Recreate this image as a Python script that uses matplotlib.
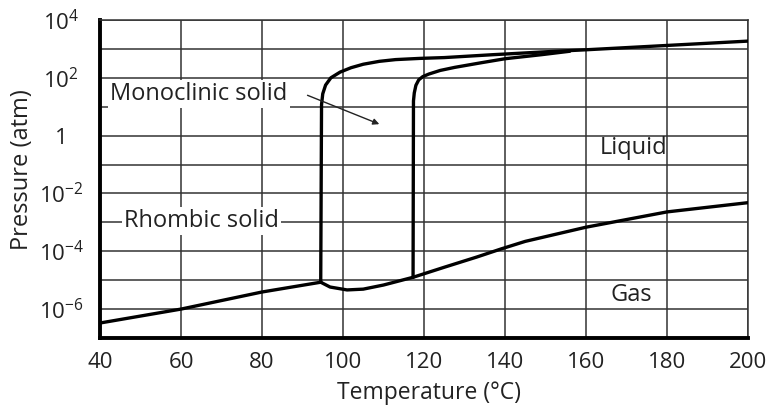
import numpy as np
import matplotlib
matplotlib.use('Agg')
import matplotlib.pyplot as plt
from matplotlib.ticker import FixedLocator, FixedFormatter

plt.rcParams['font.family'] = ['Open Sans', 'DejaVu Sans']
plt.rcParams['mathtext.default'] = 'regular'

# rhombic solid / gas boundary
t_rhombic_gas = [40, 60, 80, 94.5]
p_rhombic_gas = [3.3e-7, 1.0e-6, 3.9e-6, 8.5e-6]

# monoclinic solid / gas boundary
t_mono_gas = [94.5, 96.8, 101, 105, 110, 117.3]
p_mono_gas = [8.5e-6, 5.8e-6, 4.6e-6, 4.9e-6, 6.8e-6, 1.26e-5]

# liquid / gas boundary
t_liquid_gas = [117.3, 125, 133, 139, 145, 160, 180, 200]
p_liquid_gas = [1.26e-5, 2.8e-5, 6.3e-5, 1.2e-4, 2.2e-4, 6.8e-4, 2.3e-3, 4.8e-3]

# rhombic / monoclinic boundary, continuing as rhombic / liquid
t_rhombic_mono = [94.5, 94.7, 95.0, 95.7, 97.0, 99.3, 102, 105, 109, 113, 119, 125, 137, 141, 150, 160, 180, 200]
p_rhombic_mono = [8.5e-6, 11.7, 28, 56, 100, 158, 224, 295, 372, 427, 470, 501, 631, 676, 794, 933, 1318, 1862]

# monoclinic / liquid boundary
t_mono_liquid = [117.3, 117.4, 117.6, 118.0, 118.7, 119.7, 121.2, 124, 127.6, 134, 140, 149, 156]
p_mono_liquid = [1.26e-5, 15.8, 30, 55, 85, 110, 135, 180, 230, 330, 457, 631, 830]

x_ticks = [40, 60, 80, 100, 120, 140, 160, 180, 200]
y_ticks = [1e-7, 1e-6, 1e-5, 1e-4, 1e-3, 1e-2, 1e-1, 1, 1e1, 1e2, 1e3, 1e4]
y_labels = ['', '$10^{-6}$', '', '$10^{-4}$', '', '$10^{-2}$', '', '1', '', '$10^{2}$', '', '$10^{4}$']

txt = '#222222'
fig = plt.figure(figsize=(7.7, 4.08), dpi=100)
ax = fig.add_axes([100/770, 70/408, 648/770, 318/408])

lw = 2.4
for t, p in [(t_rhombic_gas, p_rhombic_gas), (t_mono_gas, p_mono_gas),
             (t_liquid_gas, p_liquid_gas), (t_rhombic_mono, p_rhombic_mono),
             (t_mono_liquid, p_mono_liquid)]:
    ax.plot(t, p, color='black', lw=lw, solid_capstyle='round', solid_joinstyle='round', zorder=3)

ax.set_yscale('log')
ax.set_xlim(40, 200)
ax.set_ylim(1e-7, 1e4)
ax.set_xticks(x_ticks)
ax.yaxis.set_major_locator(FixedLocator(y_ticks))
ax.yaxis.set_major_formatter(FixedFormatter(y_labels))
ax.yaxis.set_minor_locator(FixedLocator([]))
ax.grid(True, color='#333333', lw=1.1)
ax.set_axisbelow(True)
ax.tick_params(length=0, labelsize=16, colors=txt)
ax.tick_params(axis='x', pad=10)
ax.tick_params(axis='y', pad=28)
for lab in ax.get_yticklabels():
    lab.set_horizontalalignment('center')

for s in ['left', 'bottom']:
    ax.spines[s].set_linewidth(2.8)
for s in ['top', 'right']:
    ax.spines[s].set_linewidth(1.1)
    ax.spines[s].set_color('#333333')

ax.set_xlabel('Temperature (°C)', fontsize=16.5, color=txt, va='center')
ax.xaxis.set_label_coords((429 - 100) / 648, (338 - 393) / 318)
ax.set_ylabel('Pressure (atm)', fontsize=17, color=txt, va='center')
ax.yaxis.set_label_coords((22 - 100) / 648, (338 - 170) / 318)

box = dict(facecolor='white', edgecolor='none', pad=1.5)
ax.text(42.5, 28, 'Monoclinic solid', fontsize=17, color=txt, va='center', ha='left', bbox=box, zorder=2)
ax.text(46.0, 1.1e-3, 'Rhombic solid', fontsize=17, color=txt, va='center', ha='left', bbox=box, zorder=2)
ax.text(163.5, 0.38, 'Liquid', fontsize=17, color=txt, va='center', ha='left', zorder=2)
ax.text(166, 3e-6, 'Gas', fontsize=17, color=txt, va='center', ha='left', zorder=2)
ax.annotate('', xy=(109.6, 2.3), xytext=(90.6, 27),
            arrowprops=dict(arrowstyle='-|>', color='#222222', lw=1.0, mutation_scale=9), zorder=4)

fig.savefig('out.png', dpi=100)
